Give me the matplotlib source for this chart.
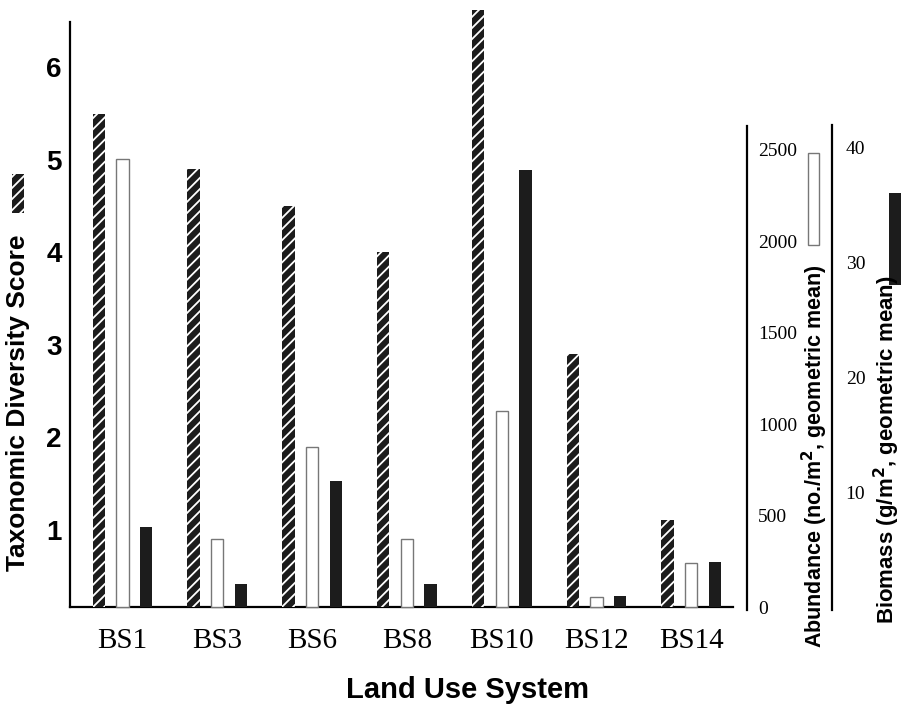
import matplotlib
matplotlib.use("Agg")
import matplotlib.pyplot as plt
from matplotlib.patches import Rectangle
import numpy as np

sites = ["BS1", "BS3", "BS6", "BS8", "BS10", "BS12", "BS14"]
diversity = [5.5, 4.9, 4.5, 4.0, 6.62, 2.9, 1.1]
abundance = [2450, 370, 875, 370, 1070, 55, 240]
biomass = [7.0, 2.0, 11.0, 2.0, 38.0, 1.0, 3.9]

div_ticks = [1, 2, 3, 4, 5, 6]
abund_ticks = [0, 500, 1000, 1500, 2000, 2500]
bio_ticks = [10, 20, 30, 40]

sans = "Liberation Sans"
serif = "Liberation Serif"
plt.rcParams["hatch.linewidth"] = 1.3

fig = plt.figure(figsize=(9.01, 7.04), dpi=100)
ax = fig.add_axes([70/901, 1-607/704, 663/901, 585/704])
ax2 = ax.twinx()
ax3 = ax.twinx()

x = np.arange(len(sites))
w = 0.13
off = 0.25
dark = "#1c1c1c"
div_base = 0.162   # diversity axis does not start at zero

ax.bar(x - off, np.array(diversity) - div_base, w, bottom=div_base, color=dark,
       edgecolor="white", hatch="///", linewidth=0, clip_on=False, zorder=3)
ax2.bar(x, abundance, w, color="white", edgecolor="#777777", linewidth=1.0,
        clip_on=False)
ax3.bar(x + off, biomass, w, color=dark, linewidth=0, clip_on=False)

# main axis (diversity)
ax.set_xlim(-0.554, 6.44)
ax.set_ylim(div_base, 6.49)
ax.set_yticks(div_ticks)
ax.set_yticklabels([str(t) for t in div_ticks])
ax.set_xticks(x)
ax.set_xticklabels(sites)
ax.tick_params(axis="both", length=0)
ax.tick_params(axis="y", pad=6, labelsize=20, labelfontfamily=sans)
for lab in ax.get_yticklabels():
    lab.set_fontweight("bold")
ax.tick_params(axis="x", pad=15, labelsize=21, labelfontfamily=serif)
for s in ["top", "right"]:
    ax.spines[s].set_visible(False)
ax.spines["left"].set_linewidth(1.6)
ax.spines["bottom"].set_linewidth(1.6)

# abundance axis
ax2.set_ylim(0, 3200)
ax2.set_yticks(abund_ticks)
ax2.set_yticklabels([str(t) for t in abund_ticks])
ax2.tick_params(axis="y", length=0, pad=8, labelsize=14, labelfontfamily=serif)
for s in ["top", "left", "bottom"]:
    ax2.spines[s].set_visible(False)
ax2.spines["right"].set_position(("axes", 1.021))
ax2.spines["right"].set_bounds(-15, 2631)
ax2.spines["right"].set_linewidth(1.6)

# biomass axis
ax3.set_ylim(0, 50.9)
ax3.set_yticks(bio_ticks)
ax3.set_yticklabels([str(t) for t in bio_ticks])
ax3.tick_params(axis="y", length=0, pad=10, labelsize=14, labelfontfamily=serif)
for s in ["top", "left", "bottom"]:
    ax3.spines[s].set_visible(False)
ax3.spines["right"].set_position(("axes", 1.149))
ax3.spines["right"].set_bounds(-0.3, 41.9)
ax3.spines["right"].set_linewidth(1.6)

# axis titles
fig.text(467/901, 1-698/704, "Land Use System", ha="center", va="baseline",
         fontsize=21, fontweight="bold", family=sans)
fig.text(18/901, 1-403/704, "Taxonomic Diversity Score", rotation=90,
         ha="center", va="center", fontsize=19, fontweight="bold", family=sans)
fig.text(815/901, 1-456/704, r"Abundance (no./m$^{\mathbf{2}}$, geometric mean)",
         rotation=90, ha="center", va="center", fontsize=15.5,
         fontweight="bold", family=sans)
fig.text(887/901, 1-450/704, r"Biomass (g/m$^{\mathbf{2}}$, geometric mean)",
         rotation=90, ha="center", va="center", fontsize=16,
         fontweight="bold", family=sans)

# key swatches next to the axis titles
fig.add_artist(Rectangle((12/901, 1-213/704), 12/901, 39/704,
                         transform=fig.transFigure, facecolor=dark,
                         edgecolor="white", hatch="///", linewidth=0))
fig.add_artist(Rectangle((808/901, 1-245/704), 11/901, 92/704,
                         transform=fig.transFigure, facecolor="white",
                         edgecolor="#777777", linewidth=1.0))
fig.add_artist(Rectangle((889/901, 1-285/704), 12/901, 92/704,
                         transform=fig.transFigure, facecolor=dark,
                         linewidth=0))

fig.savefig("out.png", dpi=100)
